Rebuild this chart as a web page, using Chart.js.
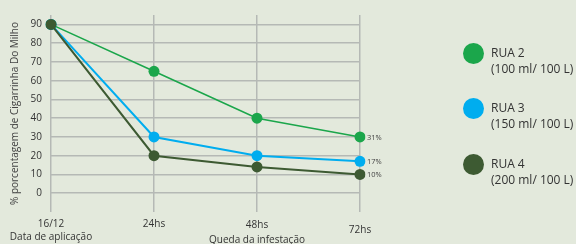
<!DOCTYPE html>
<html>
<head>
<meta charset="utf-8">
<script src="https://cdn.jsdelivr.net/npm/chart.js@4.4.1/dist/chart.umd.min.js"></script>
<style>
  html, body { margin: 0; padding: 0; background: #e3e9dc; }
  #wrap { position: relative; width: 576px; height: 244px; }
  #legend { position: absolute; left: 463px; top: 0; font-family: "Open Sans", sans-serif; font-size: 12px; color: #333; }
  .item { position: absolute; left: 0; width: 120px; }
  .dot { position: absolute; left: 0; width: 21px; height: 21px; border-radius: 50%; }
  .txt { position: absolute; left: 28px; line-height: 16px; white-space: nowrap; }
</style>
</head>
<body>
<div id="wrap">
  <canvas id="lineChart" width="576" height="244"></canvas>
  <div id="legend"></div>
</div>
<script>
const labels = [['16/12', 'Data de aplicação'], ['24hs'], ['48hs', 'Queda da infestação'], ['72hs']];
const seriesNames = ['RUA 2', 'RUA 3', 'RUA 4'];
const doses = ['(100 ml/ 100 L)', '(150 ml/ 100 L)', '(200 ml/ 100 L)'];
const rua2 = [90, 65, 40, 30];
const rua3 = [90, 30, 20, 17];
const rua4 = [90, 20, 14, 10];
const endLabels = ['31%', '17%', '10%'];
const yTicks = [0, 10, 20, 30, 40, 50, 60, 70, 80, 90];
const colors = ['#1ba64b', '#00adef', '#3d5a32'];

const FONT = '"Open Sans", sans-serif';

// labels after the last point of each line
const endLabelPlugin = {
  id: 'endLabels',
  afterDatasetsDraw(chart) {
    const ctx = chart.ctx;
    ctx.save();
    ctx.font = '7.5px ' + FONT;
    ctx.fillStyle = '#444';
    ctx.textBaseline = 'middle';
    chart.data.datasets.forEach((ds, i) => {
      const meta = chart.getDatasetMeta(i);
      const pt = meta.data[meta.data.length - 1];
      ctx.fillText(endLabels[i], pt.x + 7, pt.y + 0.5);
    });
    ctx.restore();
  }
};

const chart = new Chart(document.getElementById('lineChart'), {
  type: 'line',
  data: {
    labels: labels,
    datasets: [rua2, rua3, rua4].map((d, i) => ({
      label: seriesNames[i],
      data: d,
      borderColor: colors[i],
      backgroundColor: colors[i],
      borderWidth: i === 0 ? 1.6 : 2,
      pointRadius: 5.5,
      pointHoverRadius: 5.5,
      pointBorderWidth: 0,
      tension: 0,
      order: 3 - i
    }))
  },
  options: {
    responsive: false,
    animation: false,
    layout: { padding: { top: 12, right: 216, left: 0, bottom: 0 } },
    plugins: {
      legend: { display: false },
      tooltip: { enabled: false }
    },
    scales: {
      x: {
        type: 'category',
        offset: false,
        border: { display: false },
        grid: { color: '#b5b9b5', lineWidth: 1.5, drawTicks: false },
        ticks: {
          color: '#333',
          padding: 6,
          maxRotation: 0,
          autoSkip: false,
          font: c => ({ family: FONT, size: 10, lineHeight: c.index === 3 ? 2.4 : (c.index === 2 ? 1.45 : 1.3) })
        },
        afterFit: s => { s.height = 32; }
      },
      y: {
        min: -10,
        max: 95,
        border: { display: false },
        grid: { color: '#b5b9b5', lineWidth: 1.5, drawTicks: false },
        ticks: { color: '#333', padding: 9, font: { family: FONT, size: 10 } },
        afterBuildTicks: s => { s.ticks = yTicks.map(v => ({ value: v })); },
        afterFit: s => { s.width = 51; },
        title: {
          display: true,
          text: '% porcentagem de Cigarrinha Do Milho',
          color: '#444',
          font: { family: FONT, size: 10 },
          padding: { top: 9, bottom: 0 }
        }
      }
    }
  },
  plugins: [endLabelPlugin]
});

// legend with two-line labels
const legend = document.getElementById('legend');
const legendTops = [43, 98, 154];
seriesNames.forEach((name, i) => {
  const item = document.createElement('div');
  item.className = 'item';
  item.style.top = legendTops[i] + 'px';
  item.innerHTML = '<div class="dot" style="background:' + colors[i] + '"></div>' +
    '<div class="txt" style="top:2px">' + name + '<br>' + doses[i] + '</div>';
  legend.appendChild(item);
});
</script>
</body>
</html>
